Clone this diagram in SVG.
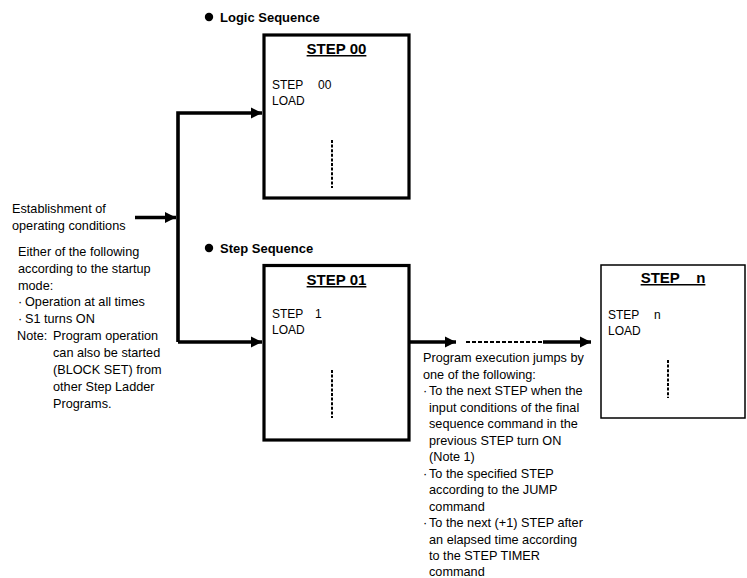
<svg xmlns="http://www.w3.org/2000/svg" width="747" height="578" viewBox="0 0 747 578">
<style>
text{font-family:"Liberation Sans",Arial,sans-serif;fill:#000}
.t{font-size:12.7px}
.b{font-size:12px}
.h{font-size:13px;font-weight:bold}
.ti{font-size:15px;font-weight:bold;text-decoration:underline;white-space:pre}
.box{fill:#fff;stroke:#000;stroke-width:3.2}
.boxn{fill:#fff;stroke:#000;stroke-width:1.5}
.dot{stroke:#000;stroke-width:2;stroke-dasharray:3 1.6;fill:none}
.ln{stroke:#000;stroke-width:3.6;fill:none}
</style>
<defs>
<marker id="ah" markerUnits="userSpaceOnUse" markerWidth="12" markerHeight="12" refX="11" refY="6" orient="auto">
<path d="M0,0.5 L11,6 L0,11.5 z" fill="#000"/>
</marker>
</defs>

<g id="connectors">
<path class="ln" d="M135,217.5 H176" marker-end="url(#ah)"/>
<path class="ln" d="M178,342 V113 H262" marker-end="url(#ah)"/>
<path class="ln" d="M178,342 H262" marker-end="url(#ah)"/>
<path class="ln" d="M409,342 H456" marker-end="url(#ah)"/>
<path d="M466,342 H543" stroke="#000" stroke-width="2" stroke-dasharray="4 2" fill="none"/>
<path class="ln" d="M543,342 H591" marker-end="url(#ah)"/>
</g>

<g id="logic-label">
<circle cx="209" cy="17" r="4.2" fill="#000"/>
<text class="h" x="220" y="21.5">Logic Sequence</text>
</g>

<g id="step00">
<rect class="box" x="264" y="35" width="145" height="163"/>
<text class="ti" x="336.5" y="54" text-anchor="middle">STEP 00</text>
<text class="b" x="272" y="89">STEP</text>
<text class="b" x="318" y="89">00</text>
<text class="b" x="272" y="105">LOAD</text>
<line class="dot" x1="332" y1="140" x2="332" y2="188"/>
</g>

<g id="step-label">
<circle cx="209" cy="248" r="4.2" fill="#000"/>
<text class="h" x="220" y="252.5">Step Sequence</text>
</g>

<g id="step01">
<rect class="box" x="264" y="265.5" width="145" height="174.5"/>
<text class="ti" x="336.5" y="285" text-anchor="middle">STEP 01</text>
<text class="b" x="272" y="318">STEP</text>
<text class="b" x="315" y="318">1</text>
<text class="b" x="272" y="334">LOAD</text>
<line class="dot" x1="332" y1="370" x2="332" y2="418"/>
</g>

<g id="stepn">
<rect class="boxn" x="601" y="265" width="144" height="153"/>
<text class="ti" x="673" y="283" text-anchor="middle">STEP    n</text>
<text class="b" x="608" y="319">STEP</text>
<text class="b" x="654" y="319">n</text>
<text class="b" x="608" y="335">LOAD</text>
<line class="dot" x1="668" y1="360" x2="668" y2="398"/>
</g>

<g id="start-text">
<text class="t" x="12" y="213">Establishment of</text>
<text class="t" x="12" y="230">operating conditions</text>
<text class="t" x="18" y="256">Either of the following</text>
<text class="t" x="18" y="273">according to the startup</text>
<text class="t" x="18" y="290">mode:</text>
<text class="t" x="18" y="306">·</text>
<text class="t" x="25" y="306">Operation at all times</text>
<text class="t" x="18" y="323">·</text>
<text class="t" x="25" y="323">S1 turns ON</text>
<text class="t" x="17" y="340">Note:</text>
<text class="t" x="53" y="340">Program operation</text>
<text class="t" x="53" y="357">can also be started</text>
<text class="t" x="53" y="374">(BLOCK SET) from</text>
<text class="t" x="53" y="391">other Step Ladder</text>
<text class="t" x="53" y="408">Programs.</text>
</g>

<g id="jump-text">
<text class="t" x="423" y="362">Program execution jumps by</text>
<text class="t" x="423" y="378.5">one of the following:</text>
<text class="t" x="423" y="395">·</text>
<text class="t" x="429" y="395">To the next STEP when the</text>
<text class="t" x="429" y="411.5">input conditions of the final</text>
<text class="t" x="429" y="428">sequence command in the</text>
<text class="t" x="429" y="444.5">previous STEP turn ON</text>
<text class="t" x="429" y="461">(Note 1)</text>
<text class="t" x="423" y="477.5">·</text>
<text class="t" x="429" y="477.5">To the specified STEP</text>
<text class="t" x="429" y="494">according to the JUMP</text>
<text class="t" x="429" y="510.5">command</text>
<text class="t" x="423" y="527">·</text>
<text class="t" x="429" y="527">To the next (+1) STEP after</text>
<text class="t" x="429" y="543.5">an elapsed time according</text>
<text class="t" x="429" y="560">to the STEP TIMER</text>
<text class="t" x="429" y="576">command</text>
</g>
</svg>
